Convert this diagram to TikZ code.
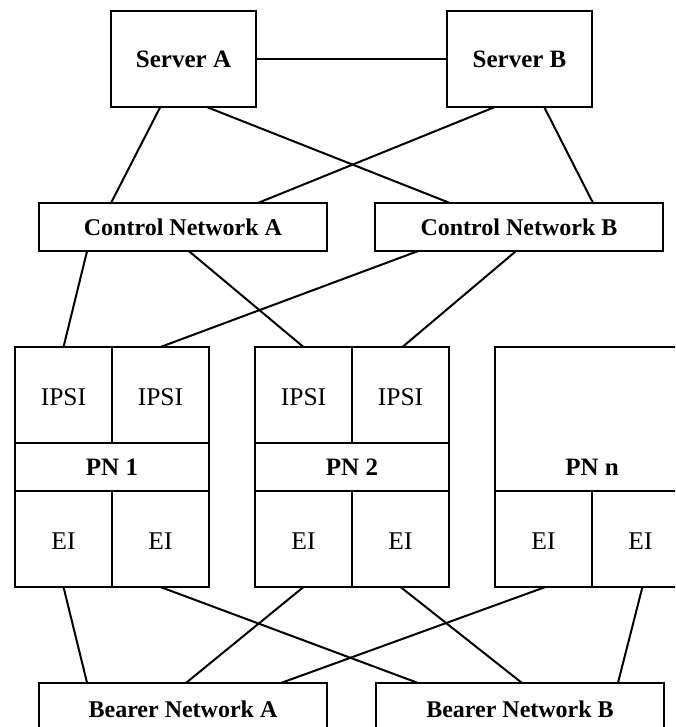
\documentclass[tikz,border=0pt]{standalone}
\usepackage{fontspec}
\setmainfont{Liberation Serif}
\usetikzlibrary{calc}
\begin{document}
\begin{tikzpicture}[x=1pt,y=-1pt,
  box/.style={draw, line width=2.7pt, inner sep=0pt, outer sep=0pt, fill=none},
  serverbox/.style={box, minimum width=145pt, minimum height=96pt, font=\fontsize{25}{30}\selectfont\bfseries},
  netbox/.style={box, minimum width=288pt, minimum height=48pt, font=\fontsize{24}{29}\selectfont\bfseries},
  bearerbox/.style={box, minimum width=288pt, minimum height=52pt, font=\fontsize{24}{29}\selectfont\bfseries},
  pnbox/.style={box, minimum width=194pt, minimum height=240pt},
  divider/.style={line width=1.5pt},
  conn/.style={line width=2pt},
  celltext/.style={inner sep=0pt, font=\fontsize{25.5}{30}\selectfont},
  pntext/.style={inner sep=0pt, font=\fontsize{25}{30}\selectfont\bfseries}
]
\useasboundingbox (0,0) rectangle (675,727);
\begin{scope}
\clip (0,0) rectangle (675,727);

% servers
\node[serverbox] (sa) at (183.5,59) {Server A};
\node[serverbox] (sb) at (519.5,59) {Server B};

% control networks
\node[netbox] (ca) at (183,227) {Control Network A};
\node[netbox] (cb) at (519,227) {Control Network B};

% port networks
\node[pnbox] (pn1) at (112,467) {};
\node[pnbox] (pn2) at (352,467) {};
\node[pnbox] (pnn) at (592,467) {};

% bearer networks
\node[bearerbox] (ba) at (183,709) {Bearer Network A};
\node[bearerbox] (bb) at (520,709) {Bearer Network B};

% dividers inside PN 1 and PN 2
\foreach \p in {pn1,pn2}{
  \draw[divider] ($(\p.north west)+(0,96)$) -- ($(\p.north east)+(0,96)$);
  \draw[divider] ($(\p.north west)+(0,144)$) -- ($(\p.north east)+(0,144)$);
  \draw[divider] (\p.north) -- ($(\p.north)+(0,96)$);
  \draw[divider] ($(\p.north)+(0,144)$) -- (\p.south);
}
% dividers inside PN n
\draw[divider] ($(pnn.north west)+(0,144)$) -- ($(pnn.north east)+(0,144)$);
\draw[divider] ($(pnn.north)+(0,144)$) -- (pnn.south);

% cell texts
\node[celltext] (pn1ia) at ($(pn1.north west)+(48.5,50)$) {IPSI};
\node[celltext] (pn1ib) at ($(pn1.north west)+(145.5,50)$) {IPSI};
\node[pntext]   (pn1l)  at ($(pn1.north west)+(97,120)$) {PN 1};
\node[celltext] (pn1ea) at ($(pn1.north west)+(48.5,194)$) {EI};
\node[celltext] (pn1eb) at ($(pn1.north west)+(145.5,194)$) {EI};

\node[celltext] (pn2ia) at ($(pn2.north west)+(48.5,50)$) {IPSI};
\node[celltext] (pn2ib) at ($(pn2.north west)+(145.5,50)$) {IPSI};
\node[pntext]   (pn2l)  at ($(pn2.north west)+(97,120)$) {PN 2};
\node[celltext] (pn2ea) at ($(pn2.north west)+(48.5,194)$) {EI};
\node[celltext] (pn2eb) at ($(pn2.north west)+(145.5,194)$) {EI};

\node[pntext]   (pnnl)  at ($(pnn.north west)+(97,120)$) {PN n};
\node[celltext] (pnnea) at ($(pnn.north west)+(48.5,194)$) {EI};
\node[celltext] (pnneb) at ($(pnn.north west)+(145.5,194)$) {EI};

% connectors: servers
\draw[conn] (sa.east) -- (sb.west);
\draw[conn] ($(sa.south west)!0.34!(sa.south east)$) -- ($(ca.north west)!0.25!(ca.north east)$);
\draw[conn] ($(sa.south west)!0.66!(sa.south east)$) -- ($(cb.north west)!0.26!(cb.north east)$);
\draw[conn] ($(sb.south west)!0.33!(sb.south east)$) -- ($(ca.north west)!0.76!(ca.north east)$);
\draw[conn] ($(sb.south west)!0.67!(sb.south east)$) -- ($(cb.north west)!0.757!(cb.north east)$);

% connectors: control networks to PNs
\draw[conn] ($(ca.south west)!0.167!(ca.south east)$) -- ($(pn1.north west)!0.25!(pn1.north east)$);
\draw[conn] ($(ca.south west)!0.52!(ca.south east)$) -- ($(pn2.north west)!0.25!(pn2.north east)$);
\draw[conn] ($(cb.south west)!0.15!(cb.south east)$) -- ($(pn1.north west)!0.75!(pn1.north east)$);
\draw[conn] ($(cb.south west)!0.49!(cb.south east)$) -- ($(pn2.north west)!0.76!(pn2.north east)$);

% connectors: PNs to bearer networks
\draw[conn] ($(pn1.south west)!0.25!(pn1.south east)$) -- ($(ba.north west)!0.167!(ba.north east)$);
\draw[conn] ($(pn1.south west)!0.75!(pn1.south east)$) -- ($(bb.north west)!0.146!(bb.north east)$);
\draw[conn] ($(pn2.south west)!0.25!(pn2.south east)$) -- ($(ba.north west)!0.51!(ba.north east)$);
\draw[conn] ($(pn2.south west)!0.75!(pn2.south east)$) -- ($(bb.north west)!0.507!(bb.north east)$);
\draw[conn] ($(pnn.south west)!0.26!(pnn.south east)$) -- ($(ba.north west)!0.84!(ba.north east)$);
\draw[conn] ($(pnn.south west)!0.76!(pnn.south east)$) -- ($(bb.north west)!0.84!(bb.north east)$);
\end{scope}
\end{tikzpicture}
\end{document}
